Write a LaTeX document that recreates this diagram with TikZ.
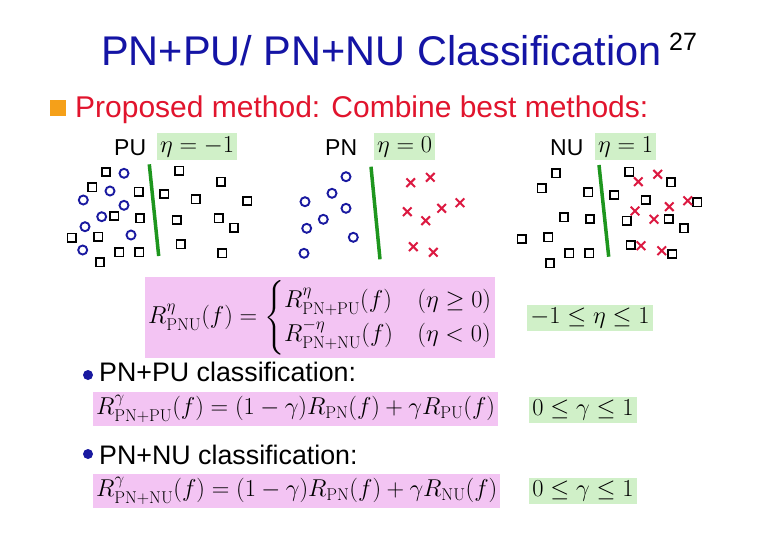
\RequirePackage{fix-cm}
\documentclass[tikz,border=0pt]{standalone}
\usepackage{amsmath}
\usepackage[no-math]{fontspec}
\setmainfont{Liberation Sans}
\definecolor{titleblue}{RGB}{20,20,165}
\definecolor{subred}{RGB}{225,20,45}
\definecolor{bulorange}{RGB}{245,160,25}
\definecolor{circblue}{RGB}{25,25,160}
\definecolor{crossred}{RGB}{220,25,65}
\definecolor{sepgreen}{RGB}{30,150,30}
\definecolor{pinkbg}{RGB}{243,196,243}
\definecolor{greenbg}{RGB}{208,240,200}
\tikzset{
  sqmark/.style={draw=black,line width=1.8pt},
  circmark/.style={draw=circblue,line width=1.9pt},
  crossmark/.style={draw=crossred,line width=2pt},
  sepline/.style={draw=sepgreen,line width=3.5pt},
  pinkbox/.style={fill=pinkbg,inner xsep=3pt,inner ysep=3pt},
  greenbox/.style={fill=greenbg,inner xsep=3pt,inner ysep=3pt},
  lbl/.style={font=\fontsize{23}{27}\selectfont,inner sep=0pt,anchor=base west},
  mth/.style={font=\fontsize{24.4}{28}\selectfont},
}
\newcommand{\sqm}[2]{\draw[sqmark] (#1-4.2,#2-4.2) rectangle (#1+4.2,#2+4.2);}
\newcommand{\cim}[2]{\draw[circmark] (#1,#2) circle (4.5);}
\newcommand{\crm}[2]{\draw[crossmark] (#1-4.3,#2-4.3) -- (#1+4.3,#2+4.3) (#1-4.3,#2+4.3) -- (#1+4.3,#2-4.3);}
\begin{document}
\begin{tikzpicture}[x=1pt,y=-1pt]
\useasboundingbox[fill=white] (0,0) rectangle (771,550);
% title
\node[anchor=base west,inner sep=0pt,text=titleblue,font=\fontsize{41.5}{48}\selectfont] (title) at (101,65) {PN+PU/ PN+NU Classification};
\node[anchor=base west,inner sep=0pt,font=\fontsize{25}{30}\selectfont] (pnum) at (669,50) {27};
% subtitle
\node[fill=bulorange,minimum size=16pt,inner sep=0pt] (obul) at (58,108) {};
\node[anchor=base west,inner sep=0pt,text=subred,font=\fontsize{30}{35}\selectfont] (sub) at (75,117) {Proposed method: Combine best methods:};
% panel labels
\node[lbl] (lpu) at (114,155) {PU};
\node[greenbox,mth,anchor=base west] (epu) at (157,152) {$\eta=-1$};
\node[lbl] (lpn) at (325,155) {PN};
\node[greenbox,mth,anchor=base west] (epn) at (374,152) {$\eta=0$};
\node[lbl] (lnu) at (550,155) {NU};
\node[greenbox,mth,anchor=base west] (enu) at (595,152) {$\eta=1$};
% panel 1 (PU)
\foreach \x/\y in {106/172,92.3/187.3,138.7/191.7,114.3/216,140/218.3,71.7/237.7,98.3/236.7,119.3/252.3,139.3/252.3,100/262.3,179.3/170.7,221/181.7,164.3/194,195.7/199.3,247.3/201,176.7/220,218.7/218.3,234/227.7,180.7/244.3,222.3/253.3}{\sqm{\x}{\y}}
\foreach \x/\y in {124/173.3,110/191,83.3/200,124/205.3,101.7/216.7,85/226.7,131/235,82.7/250}{\cim{\x}{\y}}
\coordinate (s1a) at (149.3,164.3);
\coordinate (s1b) at (158.7,256);
\draw[sepline] (s1a) -- (s1b);
% panel 2 (PN)
\foreach \x/\y in {346/176.7,332/193.3,305/201.7,346/208.3,323.3/219.3,306.7/228.3,353.3/237.3,304/253.3}{\cim{\x}{\y}}
\foreach \x/\y in {410.7/182.7,430.3/177.3,407.3/211.7,441.7/208.3,460/202.7,425.7/220.7,413.3/246.7,433.3/252.3}{\crm{\x}{\y}}
\coordinate (s2a) at (371,166.7);
\coordinate (s2b) at (380,259.3);
\draw[sepline] (s2a) -- (s2b);
% panel 3 (NU)
\foreach \x/\y in {556/173.3,541.7/188.3,588.3/192.3,564/217.3,590/219,521.7/239,548.3/237.3,569.3/253.3,589.3/253.3,550/263.3,629.3/171.7,671/182.3,614.3/195,645.7/200,697.3/202.3,626.7/220.7,668.7/219,684/228.3,630.7/245,672.3/254}{\sqm{\x}{\y}}
\foreach \x/\y in {638.3/181.7,657.7/174.3,635/211,669.3/206.7,687.7/200.7,654/219.3,641/245.7,661.7/250.7}{\crm{\x}{\y}}
\coordinate (s3a) at (599,165);
\coordinate (s3b) at (608.7,256.7);
\draw[sepline] (s3a) -- (s3b);
% main formula
\node[pinkbox,mth,anchor=west,minimum height=67pt] (f1) at (145,317.5) {$R^{\eta}_{\mathrm{PNU}}(f)=\begin{cases}R^{\eta}_{\mathrm{PN+PU}}(f) & (\eta\ge 0)\\ R^{-\eta}_{\mathrm{PN+NU}}(f) & (\eta<0)\end{cases}$};
\node[greenbox,mth] (r1) at (590,318) {$-1\le\eta\le1$};
% bullet 1
\fill[circblue] (88,375) circle (5);
\node[anchor=base west,inner sep=0pt,font=\fontsize{26.8}{31}\selectfont] (b1) at (99,381) {PN+PU classification:};
\node[pinkbox,mth,anchor=west] (f2) at (93,409) {$R^{\gamma}_{\mathrm{PN+PU}}(f)=(1-\gamma)R_{\mathrm{PN}}(f)+\gamma R_{\mathrm{PU}}(f)$};
\node[greenbox,mth] (r2) at (583,410) {$0\le\gamma\le1$};
% bullet 2
\fill[circblue] (88,454) circle (5);
\node[anchor=base west,inner sep=0pt,font=\fontsize{26.8}{31}\selectfont] (b2) at (99,464) {PN+NU classification:};
\node[pinkbox,mth,anchor=west] (f3) at (93,491) {$R^{\gamma}_{\mathrm{PN+NU}}(f)=(1-\gamma)R_{\mathrm{PN}}(f)+\gamma R_{\mathrm{NU}}(f)$};
\node[greenbox,mth] (r3) at (583,491) {$0\le\gamma\le1$};
\end{tikzpicture}
\end{document}
